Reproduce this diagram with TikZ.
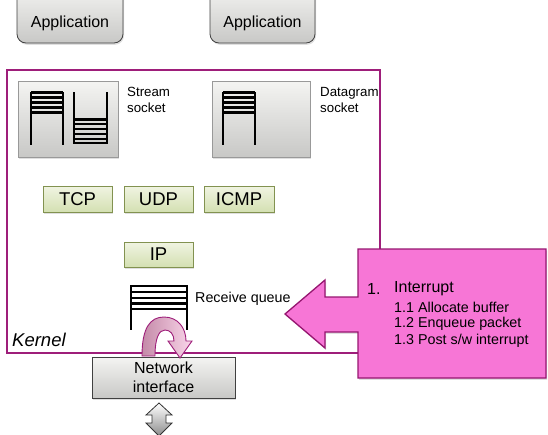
\documentclass[tikz,border=0pt]{standalone}
\usepackage{fontspec}
\setmainfont{Liberation Sans}
\usetikzlibrary{shadows}
\definecolor{kernelline}{RGB}{158,30,122}
\definecolor{calloutfill}{RGB}{247,118,214}
\definecolor{calloutline}{RGB}{150,22,112}
\definecolor{greytop}{RGB}{244,244,242}
\definecolor{greybot}{RGB}{200,200,198}
\definecolor{greentop}{RGB}{240,244,226}
\definecolor{greenbot}{RGB}{212,224,178}
\definecolor{greenline}{RGB}{130,146,80}
\definecolor{uturndark}{RGB}{196,138,168}
\definecolor{uturnlight}{RGB}{250,214,234}
\tikzset{
  softshadow/.style={drop shadow={shadow xshift=1pt,shadow yshift=-1.8pt,opacity=0.25}},
  appbox/.style={draw=black!75,line width=0.8pt,rounded corners=9pt,
    top color=greytop,bottom color=greybot,softshadow},
  sockbox/.style={draw=black!40,line width=0.6pt,top color=greytop,bottom color=greybot,
    softshadow,inner sep=0pt},
  protobox/.style={draw=greenline,line width=0.9pt,top color=greentop,bottom color=greenbot,
    minimum width=69pt,minimum height=26pt,inner sep=0pt,font=\fontsize{18.5}{21}\selectfont,softshadow},
  nicbox/.style={draw=black!75,line width=0.8pt,top color=greytop,bottom color=greybot,
    minimum width=143pt,minimum height=41pt,inner sep=0pt,align=center,
    font=\fontsize{16}{19}\selectfont,softshadow},
  kernelbox/.style={draw=kernelline,line width=1.5pt},
  queueline/.style={line width=2.2pt,black},
  lbl/.style={font=\fontsize{13.3}{16}\selectfont,align=left,inner sep=0pt},
  calloutshape/.style={fill=calloutfill,draw=calloutline,line width=1.3pt,softshadow},
  uturn/.style={left color=uturndark,right color=uturnlight,draw=kernelline,line width=0.9pt},
  updown/.style={top color=white,bottom color=black!45,draw=black!80,line width=0.8pt},
  steptext/.style={anchor=west,font=\fontsize{14.3}{17}\selectfont,inner sep=0pt},
}
\begin{document}
\begin{tikzpicture}[x=1pt,y=-1pt]
\useasboundingbox (0,0) rectangle (548,434);
\clip (0,0) rectangle (548,434);

% applications (their tops run off the page)
\path[appbox] (17,-14) rectangle (123,43);
\node[font=\fontsize{16}{19}\selectfont] (app1) at (70,23.5) {Application};
\path[appbox] (210,-14) rectangle (315,43);
\node[font=\fontsize{16}{19}\selectfont] (app2) at (262.5,23.5) {Application};

% kernel boundary
\draw[kernelbox] (7,70) rectangle (380,353);
\node[anchor=base west,font=\fontsize{18.5}{21}\selectfont\itshape,inner sep=0pt] (kernel) at (12,346) {Kernel};

% stream socket with its two queues
\node[sockbox,minimum width=100pt,minimum height=76pt] (ssock) at (68,119) {};
\foreach \y in {92.5,97.5,102.5,107.5,112.5} \draw[queueline] (31,\y) -- (63,\y);
\draw[queueline] (31,92) -- (31,145) (63,92) -- (63,145);
\foreach \y in {119.5,124.3,129.1,133.9,138.7,143} \draw[queueline] (74,\y) -- (107,\y);
\draw[queueline] (74,92) -- (74,144) (107,92) -- (107,144);
\node[lbl,anchor=north west] (sslabel) at (127,87) {Stream\\socket};

% datagram socket
\node[sockbox,minimum width=98pt,minimum height=76pt] (dsock) at (261,119) {};
\foreach \y in {92.5,97.5,102.5,107.5,112.5} \draw[queueline] (223,\y) -- (255,\y);
\draw[queueline] (223,92) -- (223,145) (255,92) -- (255,145);
\node[lbl,anchor=north west] (dslabel) at (320,87) {Datagram\\socket};

% protocol layer
\node[protobox] (tcp) at (77.5,199) {TCP};
\node[protobox] (udp) at (158.5,199) {UDP};
\node[protobox,minimum width=70pt] (icmp) at (239,199) {ICMP};
\node[protobox,minimum height=25pt] (ip) at (158.5,254.5) {IP};

% receive queue
\foreach \y in {286,291.8,297.6,303.4,309.2} \draw[queueline] (131,\y) -- (187,\y);
\draw[queueline] (131,285) -- (131,330) (187,285) -- (187,330);
\node[anchor=west,font=\fontsize{14.3}{17}\selectfont,inner sep=0pt] (rqlabel) at (195,298.5) {Receive queue};

% network interface and its link
\node[nicbox] (nic) at (163.5,377.5) {Network\\interface};
\draw[updown] (159,403) -- (172,415) -- (166,415) -- (166,423) -- (172,423) -- (159,436)
  -- (146,423) -- (152,423) -- (152,415) -- (146,415) -- cycle;

% packet turning from the interface into the receive queue
\draw[uturn] (142,356) .. controls (142,328) and (150,317) .. (164,317)
  .. controls (178,317) and (186,328) .. (186,341)
  -- (192,341) -- (180,358) -- (168,341) -- (174,341)
  .. controls (174,334) and (170,330) .. (165,330)
  .. controls (159,330) and (155,338) .. (155,356) -- cycle;

% interrupt callout
\draw[calloutshape] (546,249) -- (358,249) -- (358,297) -- (325,297) -- (325,280)
  -- (285,314) -- (325,348) -- (325,332) -- (358,332) -- (358,378) -- (546,378) -- cycle;
\node[anchor=west,font=\fontsize{16}{19}\selectfont,inner sep=0pt] (step1) at (367,289) {1.};
\node[anchor=west,font=\fontsize{16}{19}\selectfont,inner sep=0pt] (intr) at (394,289) {Interrupt};
\node[steptext] (step11) at (394,307) {1.1 Allocate buffer};
\node[steptext] (step12) at (394,324) {1.2 Enqueue packet};
\node[steptext] (step13) at (394,341) {1.3 Post s/w interrupt};
\end{tikzpicture}
\end{document}
